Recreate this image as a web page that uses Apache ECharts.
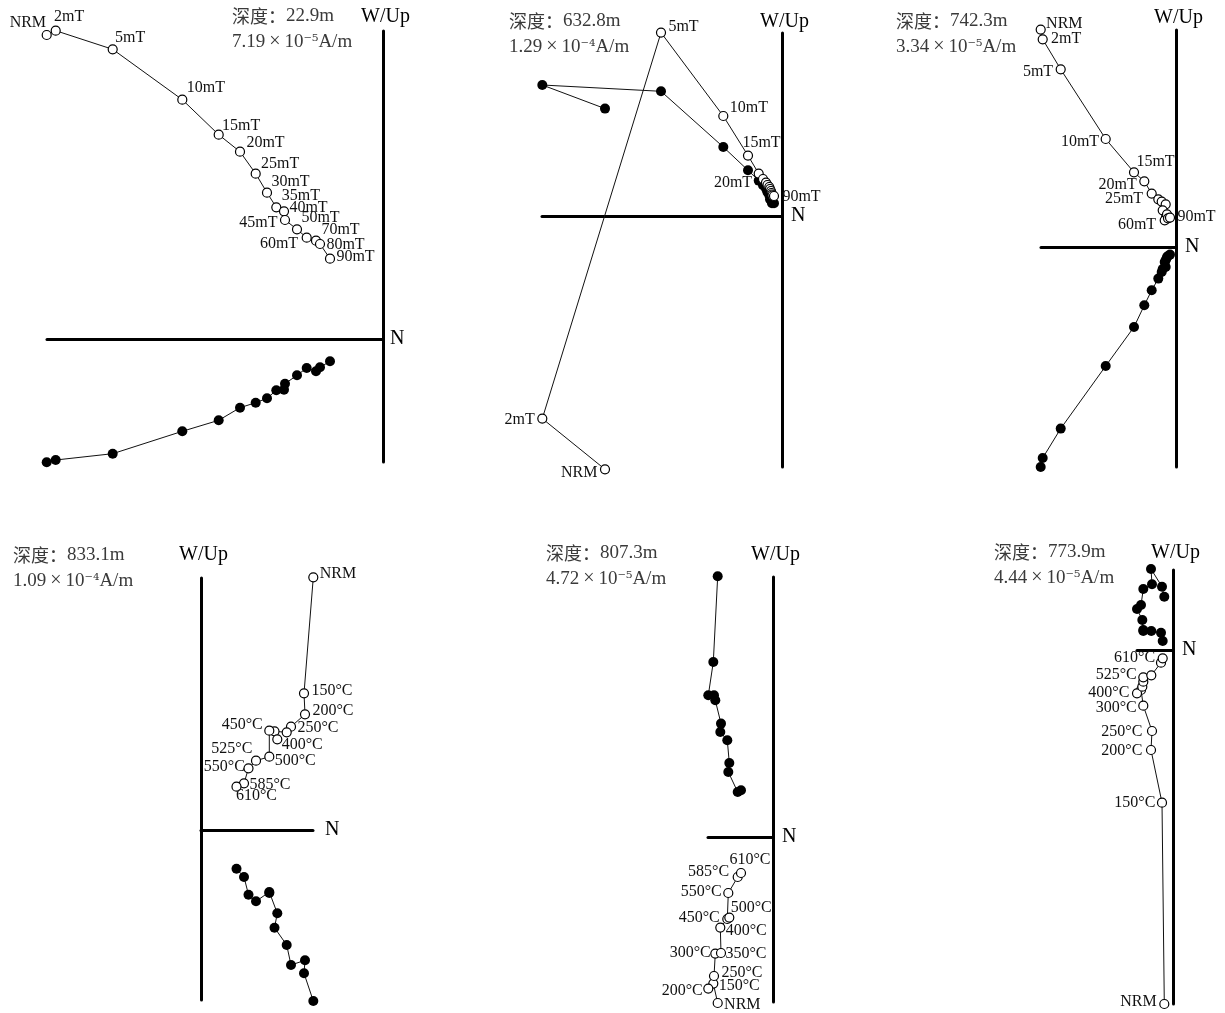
<!DOCTYPE html>
<html>
<head>
<meta charset="utf-8">
<script src="https://cdn.jsdelivr.net/npm/echarts@6.0.0/dist/echarts.min.js"></script>
<style>
  html, body { margin: 0; padding: 0; background: #fff; }
  #main { width: 1225px; height: 1013px; }
</style>
</head>
<body>
<div id="main"></div>
<script>
// Zijderveld plots, six samples. N = shared horizontal component,
// open = vertical projection, filled = horizontal projection
const depths = ['22.9m', '632.8m', '742.3m', '833.1m', '807.3m', '773.9m'];
const nrmMant = ['7.19', '1.29', '3.34', '1.09', '4.72', '4.44'];
const nrmExp = ['⁻⁵', '⁻⁴', '⁻⁵', '⁻⁴', '⁻⁵', '⁻⁵'];

// 22.9 m (AF)
const p1Labels = ['NRM', '2mT', '5mT', '10mT', '15mT', '20mT', '25mT', '30mT', '35mT', '40mT', '45mT', '50mT', '60mT', '70mT', '80mT', '90mT'];
const p1N = [-336.3, -327.3, -270.3, -200.7, -164.3, -143, -127.3, -116, -106.7, -99, -98, -86, -76.3, -67, -63, -53];
const p1Open = [304, 308.3, 289.7, 239.3, 204.3, 187.3, 165.3, 146.3, 131.7, 127.7, 119, 109.7, 101.3, 98.3, 95, 80.3];
const p1Fill = [-123.3, -121, -114.7, -92.3, -81.3, -68.7, -63.7, -59.3, -51.3, -50.7, -44.7, -36.3, -29, -32.3, -28.3, -22.3];

// 632.8 m (AF)
const p2Labels = ['NRM', '2mT', '5mT', '10mT', '15mT', '20mT', '', '', '', '', '', '', '', '', '', '90mT'];
const p2N = [-177, -239.7, -121, -58.7, -34, -23.3, -19, -16, -14.5, -12.7, -12, -11, -10.5, -10, -9.5, -8];
const p2Open = [-253.3, -202.6, 183.4, 100, 60.4, 42.4, 37, 33.4, 31, 29, 27, 25, 23, 21.5, 20.5, 20];
const p2Fill = [107.4, 131, 124.7, 69, 45.7, 35.4, 30.7, 27.4, 23.7, 20.7, 16.7, 18.7, 14.7, 12.7, 13.7, 12.7];

// 742.3 m (AF)
const p3Labels = ['NRM', '2mT', '5mT', '10mT', '15mT', '20mT', '25mT', '', '', '', '', '', '60mT', '', '', '90mT'];
const p3N = [-135.3, -133.3, -115.3, -70.3, -42, -31.7, -24.3, -17.7, -14.3, -10.3, -13.3, -10, -11.3, -9, -8, -6];
const p3Open = [217.4, 207.7, 177.7, 108, 74.7, 65.7, 53.4, 47.7, 45.4, 42.7, 36.7, 30, 26.7, 32.7, 28.7, 29.4];
const p3Fill = [-220, -211, -181.6, -119, -80, -58.3, -43.3, -31.6, -25, -20, -22, -12.6, -15, -10, -9, -7.6];

// 833.1 m (thermal)
const p4Labels = ['NRM', '150°C', '200°C', '250°C', '', '', '400°C', '450°C', '500°C', '525°C', '550°C', '585°C', '610°C'];
const p4N = [112.3, 103, 104, 90, 85.7, 73.5, 76.3, 68.3, 68.3, 55, 47.5, 43, 35.5];
const p4Open = [252.7, 136.7, 115.7, 103.3, 97.7, 98.7, 90.7, 99.3, 73.3, 69.3, 61.7, 46.7, 43.3];
const p4Fill = [-171, -143.3, -130.3, -135, -115, -97.7, -83.3, -62, -63, -71.3, -64.7, -47, -38.7];

// 807.3 m (thermal)
const p5Labels = ['NRM', '150°C', '200°C', '250°C', '300°C', '350°C', '400°C', '450°C', '500°C', '550°C', '585°C', '610°C'];
const p5N = [-55.3, -59.7, -64.7, -59, -57.7, -52, -52.7, -45.7, -43.7, -44.7, -35.3, -32];
const p5Open = [-166, -146.6, -151.6, -139, -116.6, -116, -90.6, -82, -80.6, -56, -40, -36];
const p5Fill = [260.7, 175, 141.7, 141.7, 136.7, 113.4, 105, 96.7, 74, 65, 45, 46.7];

// 773.9 m (thermal)
const p6Labels = ['NRM', '150°C', '200°C', '250°C', '300°C', '', '400°C', '', '', '525°C', '', '', '610°C'];
const p6N = [-8.7, -11, -22, -21, -29.7, -32, -36, -30.7, -29.7, -29.7, -21.7, -12, -10.3];
const p6Open = [-354, -152.7, -100, -81, -55.7, -40, -43.3, -36.7, -31.7, -27.3, -25.3, -12.7, -8.3];
const p6Fill = [53.3, 63.3, 81, 65.7, 61, 45, 41, 30, 20, 19, 19, 17.3, 9];

// label placement: [dx, dy from point centre, 'l' = text starts there / 'r' = text ends there]
const place = [
  { 'NRM': [0, -12, 'r'], '2mT': [-1, -13, 'l'], '5mT': [3, -11, 'l'], '10mT': [5, -11, 'l'], '15mT': [4, -8, 'l'],
    '20mT': [7, -8, 'l'], '25mT': [6, -9, 'l'], '30mT': [5, -10, 'l'], '35mT': [6, -11, 'l'], '40mT': [6, -3, 'l'],
    '45mT': [-7, 3, 'r'], '50mT': [5, -11, 'l'], '60mT': [-8, 7, 'r'], '70mT': [6, -10, 'l'], '80mT': [7, 1, 'l'], '90mT': [7, -1, 'l'] },
  { 'NRM': [-7, 4, 'r'], '2mT': [-7, 2, 'r'], '5mT': [8, -5, 'l'], '10mT': [7, -8, 'l'], '15mT': [-5, -12, 'l'],
    '20mT': [-6, 10, 'r'], '90mT': [9, 1, 'l'] },
  { 'NRM': [6, -5, 'l'], '2mT': [9, 0, 'l'], '5mT': [-7, 3, 'r'], '10mT': [-6, 3, 'r'], '15mT': [3, -10, 'l'],
    '20mT': [-7, 4, 'r'], '25mT': [-8, 6, 'r'], '60mT': [-8, 5, 'r'], '90mT': [8, 0, 'l'] },
  { 'NRM': [7, -3, 'l'], '150°C': [8, -2, 'l'], '200°C': [8, -3, 'l'], '250°C': [7, 2, 'l'], '400°C': [5, 6, 'l'],
    '450°C': [-6, -5, 'r'], '500°C': [6, 5, 'l'], '525°C': [-3, -11, 'r'], '550°C': [-3, -1, 'r'], '585°C': [6, 2, 'l'], '610°C': [0, 10, 'l'] },
  { 'NRM': [7, 2, 'l'], '150°C': [6, 3, 'l'], '200°C': [-5, 3, 'r'], '250°C': [8, -3, 'l'], '300°C': [-4, 0, 'r'],
    '350°C': [5, 1, 'l'], '400°C': [6, 4, 'l'], '450°C': [-7, -1, 'r'], '500°C': [2, -9, 'l'], '550°C': [-6, -1, 'r'],
    '585°C': [-8, -5, 'r'], '610°C': [-11, -13, 'l'] },
  { 'NRM': [-7, -2, 'r'], '150°C': [-6, 1, 'r'], '200°C': [-8, 1, 'r'], '250°C': [-9, 1, 'r'], '300°C': [-6, 3, 'r'],
    '400°C': [-7, 0, 'r'], '525°C': [-6, -2, 'r'], '610°C': [-7, 0, 'r'] }
];

const sets = [
  [p1N, p1Open, p1Fill, p1Labels],
  [p2N, p2Open, p2Fill, p2Labels],
  [p3N, p3Open, p3Fill, p3Labels],
  [p4N, p4Open, p4Fill, p4Labels],
  [p5N, p5Open, p5Fill, p5Labels],
  [p6N, p6Open, p6Fill, p6Labels]
];

// layout: grid box equals axis extents so 1 unit = 1 px
const layout = [
  { left: 47, top: 31, width: 336, height: 431, x: [-336, 0], y: [-123, 308], upGap: 4, nGap: 7, tx: 232, ty: 18 },
  { left: 542, top: 33, width: 240, height: 434, x: [-240, 0], y: [-251, 183], upGap: 1, nGap: 9, tx: 509, ty: 23 },
  { left: 1041, top: 30, width: 135, height: 437, x: [-135, 0], y: [-220, 217], upGap: 2, nGap: 9, tx: 896, ty: 23 },
  { left: 201, top: 578, width: 112, height: 422, x: [0, 112], y: [-170, 252], upGap: 13, nGap: 12, tx: 13, ty: 557 },
  { left: 708, top: 577, width: 65, height: 425, x: [-65, 0], y: [-165, 260], upGap: 12, nGap: 9, tx: 546, ty: 555 },
  { left: 1137, top: 570, width: 36, height: 434, x: [-36, 0], y: [-354, 80], upGap: 7, nGap: 9, tx: 994, ty: 554 }
];

const serif = 'Liberation Serif';
const grids = [], xAxes = [], yAxes = [], series = [], texts = [];

layout.forEach((L, g) => {
  grids.push({ left: L.left, top: L.top, width: L.width, height: L.height, containLabel: false, outerBoundsMode: 'none' });
  const axisLine = { onZero: true, lineStyle: { color: '#000', width: 3 } };
  xAxes.push({
    type: 'value', gridIndex: g, min: L.x[0], max: L.x[1],
    axisLine, axisTick: { show: false }, axisLabel: { show: false }, splitLine: { show: false },
    name: 'N', nameLocation: 'end', nameGap: L.nGap,
    nameTextStyle: { fontFamily: serif, fontSize: 20, color: '#000' }
  });
  yAxes.push({
    type: 'value', gridIndex: g, min: L.y[0], max: L.y[1],
    axisLine, axisTick: { show: false }, axisLabel: { show: false }, splitLine: { show: false },
    name: 'W/Up', nameLocation: 'end', nameGap: L.upGap,
    nameTextStyle: { fontFamily: serif, fontSize: 20, color: '#000', padding: [0, 0, 0, 5] }
  });

  const [n, up, fill, labels] = sets[g];
  series.push({
    type: 'line', xAxisIndex: g, yAxisIndex: g, z: 2, clip: false, animation: false,
    symbol: 'circle', symbolSize: 10, showAllSymbol: true,
    itemStyle: { color: '#000' },
    lineStyle: { color: '#111', width: 1 },
    data: n.map((x, i) => [x, fill[i]])
  });
  series.push({
    type: 'line', xAxisIndex: g, yAxisIndex: g, z: 3, clip: false, animation: false,
    symbol: 'circle', symbolSize: 9, showAllSymbol: true,
    itemStyle: { color: '#fff', borderColor: '#000', borderWidth: 1.2 },
    lineStyle: { color: '#111', width: 1 },
    label: { fontFamily: serif, fontSize: 16, color: '#111' },
    data: n.map((x, i) => {
      const item = { value: [x, up[i]] };
      const p = place[g][labels[i]];
      if (labels[i] && p) {
        item.label = {
          show: true, formatter: labels[i],
          position: [p[0] + 4.5, p[1] + 4.5],
          align: p[2] === 'l' ? 'left' : 'right',
          verticalAlign: 'middle'
        };
      }
      return item;
    })
  });

  const rich = {
    c: { fontFamily: 'Noto Sans CJK SC', fontSize: 18, fill: '#3a3a3a' },
    d: { fontFamily: serif, fontSize: 19, fill: '#3a3a3a' },
    x: { fontFamily: serif, fontSize: 20, fill: '#3a3a3a', padding: [0, 4] },
    s: { fontFamily: 'DejaVu Serif', fontSize: 16, fill: '#3a3a3a' }
  };
  texts.push({
    type: 'text', left: L.tx, top: L.ty - 11, silent: true,
    style: { text: '{c|深度：}{d|' + depths[g] + '}', rich }
  });
  texts.push({
    type: 'text', left: L.tx, top: L.ty + 14, silent: true,
    style: { text: '{d|' + nrmMant[g] + '}{x|×}{d|10}{s|' + nrmExp[g] + '}{d|A/m}', rich }
  });
});

const myChart = echarts.init(document.getElementById('main'));
myChart.setOption({
  backgroundColor: '#fff',
  animation: false,
  grid: grids,
  xAxis: xAxes,
  yAxis: yAxes,
  series: series,
  graphic: texts
});
</script>
</body>
</html>
